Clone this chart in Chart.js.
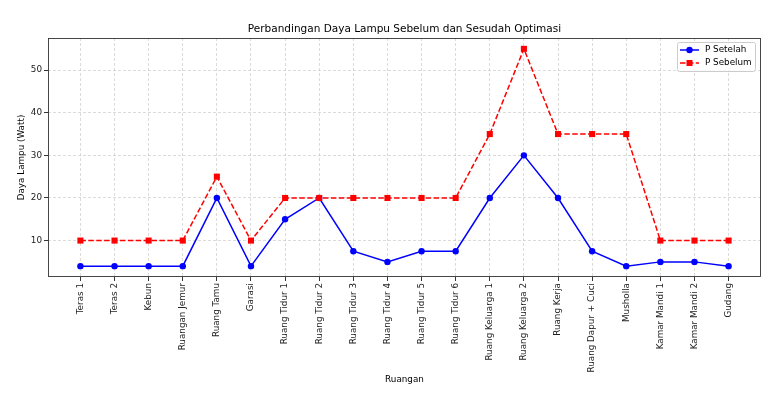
<!DOCTYPE html>
<html>
<head>
<meta charset="utf-8">
<script src="https://cdn.jsdelivr.net/npm/chart.js@4.4.0/dist/chart.umd.min.js"></script>
<style>
  html, body { margin: 0; padding: 0; background: #fff; }
</style>
</head>
<body>
<canvas id="chart" width="783" height="399"></canvas>
<script>
// data
var ruangan = ['Teras 1', 'Teras 2', 'Kebun', 'Ruangan Jemur', 'Ruang Tamu', 'Garasi',
  'Ruang Tidur 1', 'Ruang Tidur 2', 'Ruang Tidur 3', 'Ruang Tidur 4', 'Ruang Tidur 5',
  'Ruang Tidur 6', 'Ruang Keluarga 1', 'Ruang Keluarga 2', 'Ruang Kerja',
  'Ruang Dapur + Cuci', 'Musholla', 'Kamar Mandi 1', 'Kamar Mandi 2', 'Gudang'];
var pSetelah = [4, 4, 4, 4, 20, 4, 15, 20, 7.5, 5, 7.5, 7.5, 20, 30, 20, 7.5, 4, 5, 5, 4];
var pSebelum = [10, 10, 10, 10, 25, 10, 20, 20, 20, 20, 20, 20, 35, 55, 35, 35, 35, 10, 10, 10];
var yTicks = [10, 20, 30, 40, 50];
var judul = 'Perbandingan Daya Lampu Sebelum dan Sesudah Optimasi';

var FONT = 'DejaVu Sans';
var SMALL = 8.8;

function toPoints(arr) {
  return arr.map(function (v, i) { return { x: i, y: v }; });
}

// title centred over the axes, frame around plot, legend inside top-right (like matplotlib)
var framePlugin = {
  id: 'frame',
  afterDraw: function (chart) {
    var ctx = chart.ctx;
    var a = chart.chartArea;
    ctx.save();
    ctx.strokeStyle = '#333';
    ctx.lineWidth = 0.9;
    ctx.strokeRect(a.left + 0.5, a.top + 0.5, a.right - a.left - 1, a.bottom - a.top - 1);

    ctx.fillStyle = '#000';
    ctx.font = '10.5px "' + FONT + '"';
    ctx.textAlign = 'center';
    ctx.textBaseline = 'middle';
    ctx.fillText(judul, (a.left + a.right) / 2, 29);

    // legend box
    var bx = 677, by = 42, bw = 78, bh = 29;
    ctx.fillStyle = 'rgba(255,255,255,0.85)';
    ctx.strokeStyle = '#cccccc';
    ctx.lineWidth = 1;
    ctx.beginPath();
    ctx.roundRect(bx + 0.5, by + 0.5, bw, bh, 2);
    ctx.fill();
    ctx.stroke();

    var items = [
      { label: 'P Setelah', color: '#0000ff', dash: [], marker: 'circle', y: 50 },
      { label: 'P Sebelum', color: '#ff0000', dash: [5.5, 2.4], marker: 'rect', y: 63 }
    ];
    ctx.font = SMALL + 'px "' + FONT + '"';
    ctx.textAlign = 'left';
    items.forEach(function (it) {
      ctx.strokeStyle = it.color;
      ctx.fillStyle = it.color;
      ctx.lineWidth = 1.5;
      ctx.setLineDash(it.dash);
      ctx.beginPath();
      ctx.moveTo(680, it.y);
      ctx.lineTo(699, it.y);
      ctx.stroke();
      ctx.setLineDash([]);
      if (it.marker === 'circle') {
        ctx.beginPath();
        ctx.arc(689.5, it.y, 3.2, 0, Math.PI * 2);
        ctx.fill();
      } else {
        ctx.fillRect(686.5, it.y - 3, 6, 6);
      }
      ctx.fillStyle = '#000';
      ctx.fillText(it.label, 705, it.y);
    });
    ctx.restore();
  }
};

var ctx = document.getElementById('chart').getContext('2d');
var chart = new Chart(ctx, {
  type: 'line',
  data: {
    datasets: [{
      label: 'P Setelah',
      data: toPoints(pSetelah),
      borderColor: '#0000ff',
      backgroundColor: '#0000ff',
      borderWidth: 1.5,
      pointStyle: 'circle',
      pointRadius: 3.2,
      pointBorderWidth: 0,
      tension: 0,
      fill: false,
      order: 1
    }, {
      label: 'P Sebelum',
      data: toPoints(pSebelum),
      borderColor: '#ff0000',
      backgroundColor: '#ff0000',
      borderWidth: 1.5,
      borderDash: [5.5, 2.4],
      pointStyle: 'rect',
      pointRadius: 4.3,
      pointBorderWidth: 0,
      tension: 0,
      fill: false,
      order: 0
    }]
  },
  options: {
    responsive: false,
    animation: false,
    devicePixelRatio: 1,
    layout: { padding: { left: 0, right: 22, top: 38, bottom: 0 } },
    plugins: {
      legend: { display: false },
      tooltip: { enabled: false },
      title: { display: false }
    },
    scales: {
      x: {
        type: 'linear',
        min: -0.95,
        max: 19.95,
        afterBuildTicks: function (scale) {
          scale.ticks = ruangan.map(function (r, i) { return { value: i }; });
        },
        afterFit: function (scale) { scale.height = 122; },
        grid: {
          color: 'rgba(180,180,180,0.6)',
          lineWidth: 0.8,
          tickColor: '#000',
          tickLength: 4,
          tickWidth: 0.8,
          tickBorderDash: [1, 0]
        },
        border: { display: false, dash: [3, 2] },
        ticks: {
          autoSkip: false,
          maxRotation: 90,
          minRotation: 90,
          padding: 2,
          color: '#222',
          font: { family: FONT, size: SMALL },
          callback: function (v) { return ruangan[v]; }
        },
        title: {
          display: true,
          text: 'Ruangan',
          color: '#000',
          font: { family: FONT, size: SMALL },
          padding: { top: 13.7, bottom: 13.7 }
        }
      },
      y: {
        type: 'linear',
        min: 1.45,
        max: 57.55,
        afterBuildTicks: function (scale) {
          scale.ticks = yTicks.map(function (v) { return { value: v }; });
        },
        afterFit: function (scale) { scale.width = 48; },
        grid: {
          color: 'rgba(180,180,180,0.6)',
          lineWidth: 0.8,
          tickColor: '#000',
          tickLength: 4,
          tickWidth: 0.8,
          tickBorderDash: [1, 0]
        },
        border: { display: false, dash: [3, 2] },
        ticks: {
          padding: 2,
          color: '#222',
          font: { family: FONT, size: SMALL }
        },
        title: {
          display: true,
          text: 'Daya Lampu (Watt)',
          color: '#000',
          font: { family: FONT, size: SMALL },
          padding: { top: 16.7, bottom: 16.7 }
        }
      }
    }
  },
  plugins: [framePlugin]
});
</script>
</body>
</html>
